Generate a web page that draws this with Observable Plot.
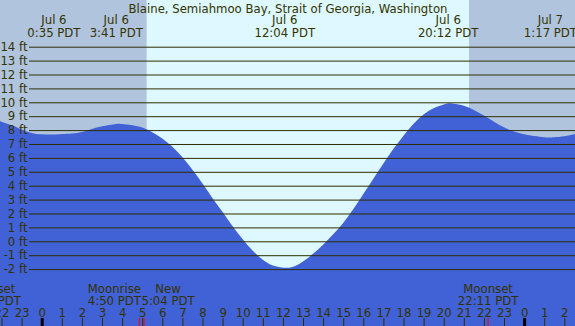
<!DOCTYPE html>
<html>
<head>
<meta charset="utf-8">
<script src="https://cdn.jsdelivr.net/npm/d3@7"></script>
<script src="https://cdn.jsdelivr.net/npm/@observablehq/plot@0.6"></script>
<style>
  html, body { margin: 0; padding: 0; overflow: hidden; background: #ddf8ff; }
  #chart svg { display: block; }
</style>
</head>
<body>
<div id="chart"></div>
<script>
// ---- data (hours relative to Jul 6 00:00 PDT) ----
const title = "Blaine, Semiahmoo Bay, Strait of Georgia, Washington";

const tideHours = [-2.075,-2,-1.5,-1,-0.5,0,0.583,1,1.5,2,2.5,3,3.683,4,4.5,5,5.5,6,6.5,7,7.5,8,8.5,9,9.5,10,10.5,11,11.5,12.067,12.5,13,13.5,14,14.5,15,15.5,16,16.5,17,17.5,18,18.5,19,19.5,20,20.2,20.5,21,21.5,22,22.5,23,23.5,24,24.5,25,25.283,25.5,26,26.532];
const tideFeet  = [8.68,8.6,8.35,8.05,7.8,7.7,7.68,7.72,7.76,7.86,8.08,8.27,8.44,8.43,8.35,8.18,7.85,7.4,6.8,6.05,5.15,4.15,3.1,2.1,1.08,0.15,-0.68,-1.32,-1.74,-1.9,-1.84,-1.45,-0.9,-0.24,0.5,1.32,2.3,3.4,4.5,5.6,6.65,7.6,8.45,9.12,9.58,9.85,9.92,9.9,9.75,9.45,9.05,8.6,8.2,7.9,7.7,7.57,7.49,7.47,7.49,7.56,7.72];

const eventHours = [0.583, 3.683, 12.067, 20.2, 25.283];
const eventDates = ["Jul 6", "Jul 6", "Jul 6", "Jul 6", "Jul 7"];
const eventTimes = ["0:35 PDT", "3:41 PDT", "12:04 PDT", "20:12 PDT", "1:17 PDT"];

const nightStarts = [-2.075, 21.26];
const nightEnds   = [5.22, 26.532];

const moonHours = [-2.57, 4.833, 5.067, 22.183];
const moonNames = ["Moonset", "Moonrise", "New", "Moonset"];
const moonTimes = ["21:26 PDT", "4:50 PDT", "5:04 PDT", "22:11 PDT"];
const moonShift = ["center", "left", "right", "center"];

const ftTicks = [-2,-1,0,1,2,3,4,5,6,7,8,9,10,11,12,13,14];
const hourTicks = d3.range(-2, 27);

// ---- styling ----
const DAY = "#ddf8ff", NIGHT = "#b0c4de", WATER = "#4161d6";
const GRID = "#2e2e00", TEXT = "#333300";
const FONT = 11.7;

const tide = tideHours.map((h, i) => ({h, v: tideFeet[i]}));
const events = eventHours.map((h, i) => ({h, date: eventDates[i], time: eventTimes[i]}));
const nights = nightStarts.map((s, i) => ({s, e: nightEnds[i]}));
const moons = moonHours.map((h, i) => ({h, name: moonNames[i], time: moonTimes[i], shift: moonShift[i]}));

const xDomain = [-2.0746, 26.532];
const yDomain = [-6.094, 17.36];

const chart = Plot.plot({
  width: 575,
  height: 326,
  margin: 0,
  x: {domain: xDomain, axis: null},
  y: {domain: yDomain, axis: null},
  style: {background: DAY, fontFamily: "'DejaVu Sans', sans-serif", fontSize: FONT + "px", color: TEXT},
  marks: [
    Plot.rect(nights, {x1: "s", x2: "e", fill: NIGHT}),
    Plot.areaY(tide, {x: "h", y1: yDomain[0], y2: "v", fill: WATER, curve: "natural"}),
    Plot.ruleY(ftTicks, {y: d => d, insetLeft: 29, stroke: GRID, strokeWidth: 1}),
    Plot.text(ftTicks, {y: d => d, frameAnchor: "left", dx: 27, textAnchor: "end", text: d => `${d} ft`, fill: TEXT, fontSize: FONT}),
    // hour ticks
    Plot.ruleX(hourTicks.filter(d => d % 24 !== 0), {x: d => d, insetTop: 318, stroke: GRID, strokeWidth: 1}),
    Plot.ruleX(hourTicks.filter(d => d % 24 === 0), {x: d => d, insetTop: 318, stroke: "#000", strokeWidth: 3}),
    Plot.ruleX(moons, {x: "h", insetTop: 318, stroke: "#ff0000", strokeWidth: 1}),
    Plot.text(hourTicks, {x: d => d, frameAnchor: "bottom", dy: -10, lineAnchor: "bottom", text: d => String(((d % 24) + 24) % 24), fill: TEXT, fontSize: FONT}),
    // moon labels
    Plot.text(moons.filter(d => d.shift === "center"), {x: "h", frameAnchor: "bottom", dy: -22, lineAnchor: "bottom", lineHeight: 1, text: d => d.name + "\n" + d.time, fill: TEXT, fontSize: FONT}),
    Plot.text(moons.filter(d => d.shift === "left"), {x: "h", frameAnchor: "bottom", dx: -25, dy: -22, lineAnchor: "bottom", lineHeight: 1, text: d => d.name + "\n" + d.time, fill: TEXT, fontSize: FONT}),
    Plot.text(moons.filter(d => d.shift === "right"), {x: "h", frameAnchor: "bottom", dx: 24, dy: -22, lineAnchor: "bottom", lineHeight: 1, text: d => d.name + "\n" + d.time, fill: TEXT, fontSize: FONT}),
    // tide extreme labels
    Plot.text(events, {x: "h", frameAnchor: "top", dy: 36, lineAnchor: "bottom", lineHeight: 1.07, text: d => d.date + "\n" + d.time, fill: TEXT, fontSize: FONT}),
    // title
    Plot.text([title], {frameAnchor: "top", dy: 12, lineAnchor: "bottom", text: d => d, fill: TEXT, fontSize: FONT})
  ]
});
document.getElementById("chart").appendChild(chart);
</script>
</body>
</html>
